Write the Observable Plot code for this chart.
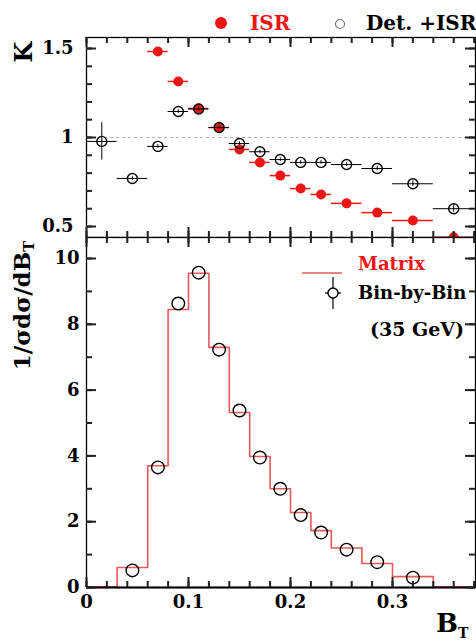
<!DOCTYPE html>
<html><head><meta charset="utf-8">
<script src="https://cdn.jsdelivr.net/npm/d3@7"></script>
<script src="https://cdn.jsdelivr.net/npm/@observablehq/plot@0.6"></script>
<style>
body{margin:0;background:#fff;}
#wrap{position:relative;width:476px;height:641px;overflow:hidden;font-family:"DejaVu Serif",serif;font-weight:bold;color:#000;}
#wrap svg.p{position:absolute;left:0;}
.t{position:absolute;white-space:nowrap;line-height:1;}
</style></head><body><div id="wrap"></div>
<script>
// ---- data ----
const binLo = [0, 0.03, 0.06, 0.08, 0.10, 0.12, 0.14, 0.16, 0.18, 0.20, 0.22, 0.24, 0.27, 0.30, 0.34];
const binHi = [0.03, 0.06, 0.08, 0.10, 0.12, 0.14, 0.16, 0.18, 0.20, 0.22, 0.24, 0.27, 0.30, 0.34, 0.38];
const matrix   = [0.02, 0.61, 3.70, 8.45, 9.55, 7.30, 5.32, 3.98, 3.00, 2.28, 1.73, 1.20, 0.73, 0.33, 0.02];
const binByBin = [null, 0.52, 3.65, 8.63, 9.57, 7.23, 5.38, 3.95, 3.00, 2.20, 1.67, 1.15, 0.77, 0.30, null];
const kISR     = [null, null, 1.483, 1.315, 1.163, 1.056, 0.933, 0.86, 0.786, 0.713, 0.68, 0.63, 0.578, 0.534, 0.44];
const kDet     = [0.978, 0.77, 0.95, 1.146, 1.16, 1.056, 0.966, 0.92, 0.876, 0.86, 0.86, 0.848, 0.826, 0.74, 0.60];
const kDetErr  = [0.105, 0.01, 0.01, 0.01, 0.01, 0.01, 0.01, 0.01, 0.01, 0.01, 0.01, 0.01, 0.012, 0.015, 0.02];
const xMajor = [0, 0.1, 0.2, 0.3];
const xMinor = d3.range(0, 0.381, 0.02);
const kMajor = [0.5, 1, 1.5];
const kMinor = d3.range(0.5, 1.56, 0.1);
const hMajor = [0, 2, 4, 6, 8, 10];
const hMinor = d3.range(0, 10.6, 1);

const RED = "#ee1515", HRED = "#e55a5a";
const bins = binLo.map((lo, i) => ({lo, hi: binHi[i], c: (lo + binHi[i]) / 2,
  m: matrix[i], b: binByBin[i], isr: kISR[i], det: kDet[i], de: kDetErr[i]}));
const edges = bins.map(d => ({x: d.lo, y: d.m})).concat([{x: binHi[binHi.length - 1], y: matrix[matrix.length - 1]}]);

const W = 476, ML = 86, MR = 1;
const FW = W - ML - MR;
const XPX = 1020;
const xDom = [0, FW / XPX];
const style = {fontFamily: "DejaVu Serif", fontSize: "18px", fontWeight: "bold", color: "#000", background: "transparent"};

// inward frame ticks, lengths in pixels converted via px-per-unit
function frameTicks(yDom, ypx, xMaj, xMin, yMaj, yMin) {
  const o = {stroke: "#222", strokeWidth: 2};
  const L = 10, S = 6;
  const y0 = yDom[0], y1 = yDom[1], x0 = xDom[0], x1 = xDom[1];
  return [
    Plot.ruleX(xMaj, {x: d => d, y1: y0, y2: y0 + L / ypx, ...o}),
    Plot.ruleX(xMaj, {x: d => d, y1: y1 - L / ypx, y2: y1, ...o}),
    Plot.ruleX(xMin, {x: d => d, y1: y0, y2: y0 + S / ypx, ...o}),
    Plot.ruleX(xMin, {x: d => d, y1: y1 - S / ypx, y2: y1, ...o}),
    Plot.ruleY(yMaj, {y: d => d, x1: x0, x2: x0 + L / XPX, ...o}),
    Plot.ruleY(yMaj, {y: d => d, x1: x1 - L / XPX, x2: x1, ...o}),
    Plot.ruleY(yMin, {y: d => d, x1: x0, x2: x0 + S / XPX, ...o}),
    Plot.ruleY(yMin, {y: d => d, x1: x1 - S / XPX, x2: x1, ...o})
  ];
}

// ---- top panel (K) ----
const H1 = 238, MT1 = 37, MB1 = 1;
const KPX = 178;
const kDom = [0.5 - 11 / KPX, 1.5 + 11 / KPX];
const topPlot = Plot.plot({
  width: W, height: H1, marginLeft: ML, marginRight: MR, marginTop: MT1, marginBottom: MB1,
  style,
  x: {domain: xDom, axis: null},
  y: {domain: kDom, axis: null},
  marks: [
    Plot.ruleY([1], {stroke: "#999", strokeDasharray: "3,3", strokeWidth: 0.8}),
    Plot.axisY({ticks: kMajor, tickSize: 0, tickPadding: 13, tickFormat: d => String(d), label: null}),
    Plot.ruleY(bins.filter(d => d.isr != null), {y: "isr", x1: "lo", x2: "hi", stroke: RED, strokeWidth: 1.5, clip: true}),
    Plot.dot(bins.filter(d => d.isr != null), {x: "c", y: "isr", r: 5, fill: RED, clip: true}),
    Plot.ruleY(bins, {y: "det", x1: "lo", x2: "hi", stroke: "#000", strokeWidth: 1}),
    Plot.ruleX(bins, {x: "c", y1: d => d.det - d.de, y2: d => d.det + d.de, stroke: "#000", strokeWidth: 1}),
    Plot.dot(bins, {x: "c", y: "det", r: 5, stroke: "#000", fill: "none", strokeWidth: 1.4}),
    Plot.frame({stroke: "#000", strokeWidth: 1.3}),
    ...frameTicks(kDom, KPX, xMajor, xMinor, kMajor, kMinor)
  ]
});

// ---- bottom panel (distribution) ----
const H2 = 405, MT2 = 1, MB2 = 54;
const HPX = 32.9;
const hDom = [0, (587 - 237) / HPX];
const botPlot = Plot.plot({
  width: W, height: H2, marginLeft: ML, marginRight: MR, marginTop: MT2, marginBottom: MB2,
  style,
  x: {domain: xDom, axis: null},
  y: {domain: hDom, axis: null},
  marks: [
    Plot.axisY({ticks: hMajor, tickSize: 0, tickPadding: 7, tickFormat: d => String(d), label: null}),
    Plot.axisX({ticks: xMajor, tickSize: 0, tickPadding: 8, tickFormat: d => String(d), label: null}),
    Plot.line(edges, {x: "x", y: "y", curve: "step-after", stroke: HRED, strokeWidth: 1.6}),
    Plot.dot(bins.filter(d => d.b != null), {x: "c", y: "b", r: 6.3, stroke: "#000", fill: "none", strokeWidth: 1.4}),
    Plot.frame({stroke: "#000", strokeWidth: 1.3}),
    Plot.ruleY([0], {stroke: "#000", strokeWidth: 2}),
    ...frameTicks(hDom, HPX, xMajor, xMinor, hMajor, hMinor)
  ]
});

const wrap = document.getElementById("wrap");
topPlot.classList.add("p"); topPlot.style.top = "0px";
botPlot.classList.add("p"); botPlot.style.top = "236px";
wrap.appendChild(topPlot);
wrap.appendChild(botPlot);

function addText(html, css) {
  const d = document.createElement("div");
  d.className = "t";
  d.innerHTML = html;
  Object.assign(d.style, css);
  wrap.appendChild(d);
  return d;
}
// axis titles
addText("K", {left: "14px", top: "40px", fontSize: "24px", transform: "rotate(-90deg)", transformOrigin: "50% 50%"});
addText("1/σdσ/dB<sub style='font-size:15px;vertical-align:-4px'>T</sub>", {left: "-52px", top: "292px", width: "150px", textAlign: "center", fontSize: "23px", transform: "rotate(-90deg)", transformOrigin: "50% 50%"});
addText("B<sub style='font-size:14px;vertical-align:-6px'>T</sub>", {left: "436px", top: "610px", fontSize: "26px"});

// top legend
addText("<svg width='14' height='14'><circle cx='7' cy='7' r='6' fill='" + RED + "'/></svg>", {left: "214px", top: "16px"});
addText("ISR", {left: "250px", top: "13px", fontSize: "20px", color: RED});
addText("<svg width='12' height='12'><circle cx='6' cy='6' r='4.5' fill='none' stroke='#777' stroke-width='1.2'/></svg>", {left: "334px", top: "17px"});
addText("Det. +ISR", {left: "366px", top: "13px", fontSize: "20px"});

// bottom legend
addText("<svg width='40' height='4'><line x1='0' y1='2' x2='40' y2='2' stroke='" + HRED + "' stroke-width='1.5'/></svg>", {left: "302px", top: "262px"});
addText("Matrix", {left: "358px", top: "255px", fontSize: "18px", color: RED});
addText("<svg width='22' height='32'><line x1='11' y1='0' x2='11' y2='32' stroke='#000' stroke-width='1.2'/><line x1='3' y1='16' x2='19' y2='16' stroke='#000' stroke-width='1.2'/><circle cx='11' cy='16' r='5' fill='#fff' stroke='#000' stroke-width='1.4'/></svg>", {left: "322px", top: "277px"});
addText("Bin-by-Bin", {left: "358px", top: "284px", fontSize: "18px"});
addText("(35 GeV)", {left: "370px", top: "320px", fontSize: "19px"});
</script></body></html>
